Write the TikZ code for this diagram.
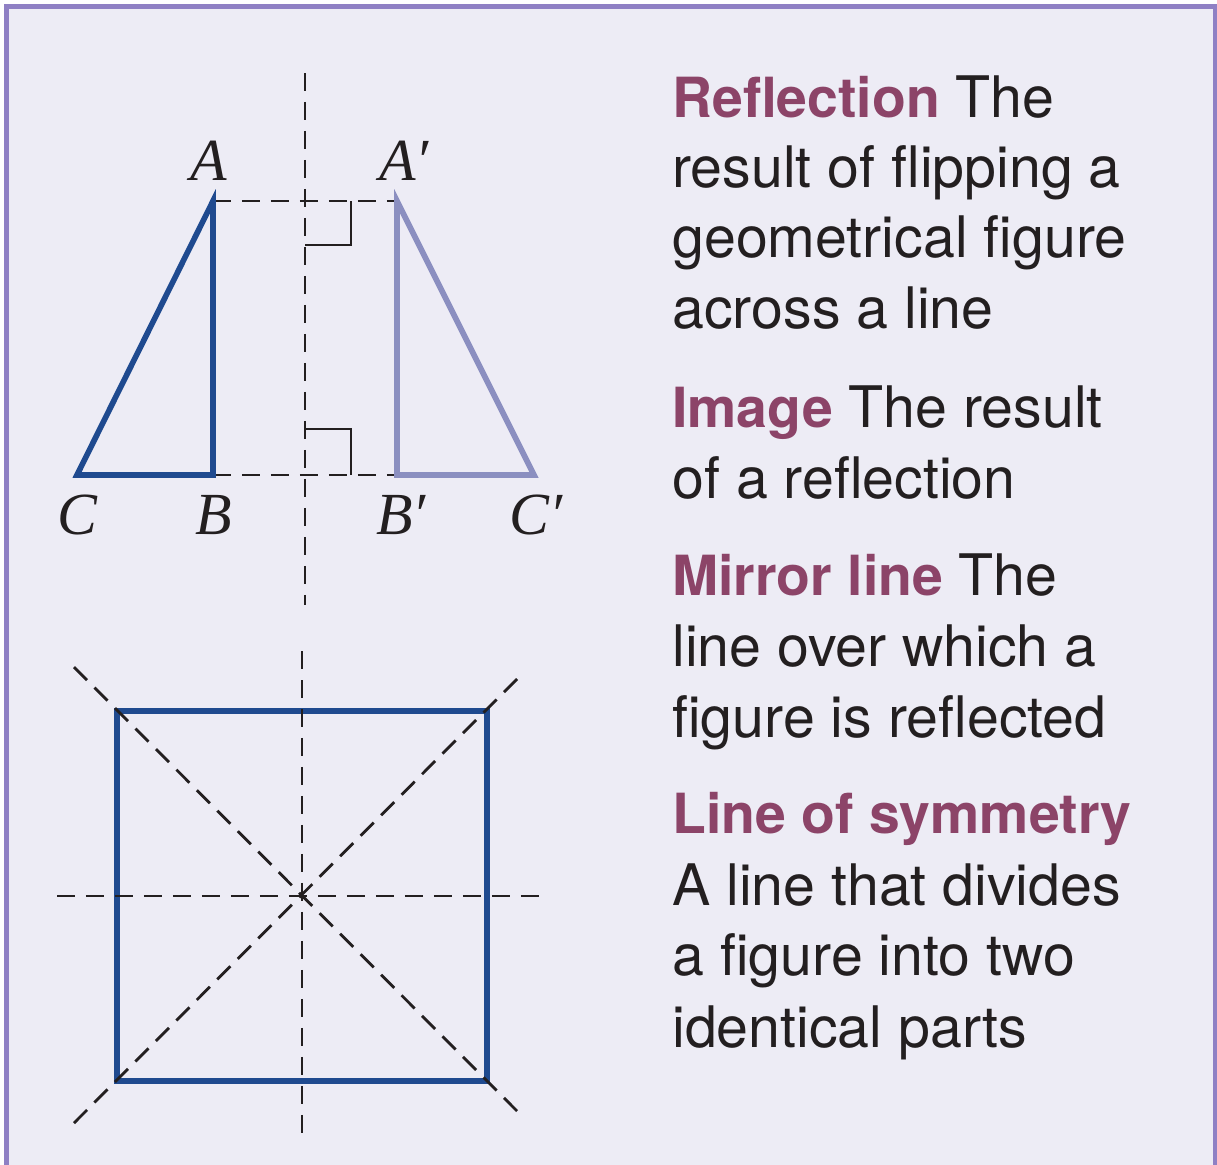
\documentclass[tikz,border=0pt]{standalone}
\usepackage{fontspec}
\setmainfont{TeX Gyre Heros}
\newfontfamily\labelfont{Liberation Serif}
\usepackage{xcolor}
\usepackage{tikz}
\usetikzlibrary{calc}
\definecolor{panel}{HTML}{EDECF5}
\definecolor{frame}{HTML}{8F80C4}
\definecolor{termcol}{HTML}{8C4468}
\definecolor{figblue}{HTML}{1F4A8F}
\definecolor{imgblue}{HTML}{8B8FC0}
\definecolor{ink}{HTML}{231F20}
\newcommand{\termword}[1]{\textcolor{termcol}{\fontsize{31.5}{40}\selectfont\bfseries #1}}
\tikzset{
  figline/.style={line width=3.2pt, line join=miter},
  guide/.style={ink, line width=1.6pt, dash pattern=on 10.5pt off 6pt},
  rightmark/.style={ink, line width=1.4pt},
  term/.style={anchor=base west, inner sep=0pt, text=ink, font=\fontsize{32.6}{40}\selectfont},
  vlabel/.style={anchor=base, inner sep=0pt, text=ink, font=\labelfont\itshape\fontsize{34}{40}\selectfont}
}

\begin{document}
\begin{tikzpicture}[x=0.02cm, y=-0.02cm]
\useasboundingbox (0,0) rectangle (1217,1164);
\fill[white] (0,0) rectangle (1217,1164);
\filldraw[fill=panel, draw=frame, line width=2.9pt] (6.5,6.5) rectangle (1216,1180);

% reflection of the triangle
\coordinate (A) at (213,201);
\coordinate (B) at (213,475);
\coordinate (C) at (77,475);
\coordinate (Ap) at (397,201);
\coordinate (Bp) at (397,475);
\coordinate (Cp) at (534,475);
\coordinate (mtop) at (305,73);
\coordinate (mbot) at (305,605);

\draw[guide] (mtop) -- (mbot);
\draw[guide] (A) -- (Ap);
\draw[guide] (B) -- (Bp);
\draw[rightmark] (305,245) -- (351,245) -- (351,201);
\draw[rightmark] (305,429) -- (351,429) -- (351,475);
\draw[figline, figblue] (A) -- (B) -- (C) -- cycle;
\draw[figline, imgblue] (Ap) -- (Bp) -- (Cp) -- cycle;

\node[vlabel] (lblA) at (209,180) {A};
\node[vlabel] (lblAp) at (404,180) {A′};
\node[vlabel] (lblC) at (77,534) {C};
\node[vlabel] (lblB) at (214,534) {B};
\node[vlabel] (lblBp) at (401,534) {B′};
\node[vlabel] (lblCp) at (536,534) {C′};

% square with its lines of symmetry
\coordinate (sq1) at (117,711);
\coordinate (sq2) at (487,1081);
\draw[figline, figblue] (sq1) rectangle (sq2);
\draw[guide] (302,651) -- (302,1140);
\draw[guide] (57,896) -- (547,896);
\draw[guide] (74,667) -- (522,1116);
\draw[guide] (74,1123) -- (522,674);

% definitions
\node[term] (refl1) at (672,117) {\termword{Reflection} The};
\node[term] (refl2) at (672,187) {result of flipping a};
\node[term] (refl3) at (672,257) {geometrical figure};
\node[term] (refl4) at (672,328) {across a line};
\node[term] (img1) at (672,427) {\termword{Image} The result};
\node[term] (img2) at (672,498) {of a reflection};
\node[term] (mirr1) at (672,595) {\termword{Mirror line} The};
\node[term] (mirr2) at (672,666) {line over which a};
\node[term] (mirr3) at (672,737) {figure is reflected};
\node[term] (sym1) at (672,833) {\termword{Line of symmetry}};
\node[term] (sym2) at (672,905) {A line that divides};
\node[term] (sym3) at (672,975) {a figure into two};
\node[term] (sym4) at (672,1047) {identical parts};
\end{tikzpicture}
\end{document}
